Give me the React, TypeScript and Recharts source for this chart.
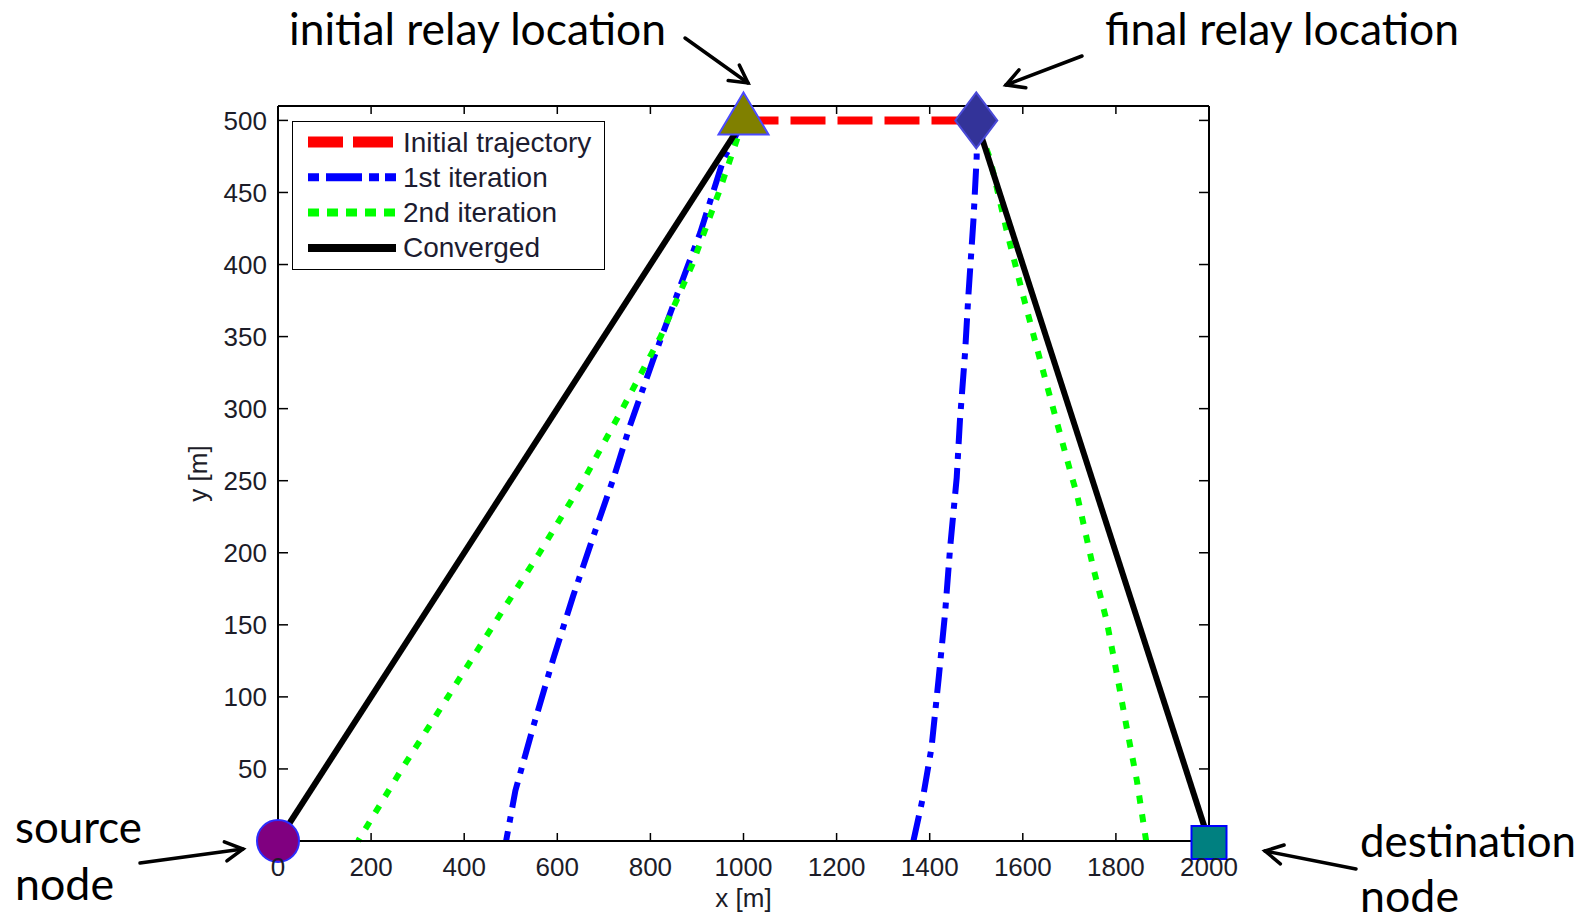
import React from "react";
import { ComposedChart, Line, Scatter, XAxis, YAxis, Legend } from "recharts";

const X_TICKS = [0, 200, 400, 600, 800, 1000, 1200, 1400, 1600, 1800, 2000];
const Y_TICKS = [50, 100, 150, 200, 250, 300, 350, 400, 450, 500];

// relay trajectories (x [m], y [m])
const initialTrajectory = [
  { x: 1000, y: 500 },
  { x: 1500, y: 500 },
];

const firstIterationLeft = [
  { x: 1000, y: 500 }, { x: 957, y: 473 }, { x: 907, y: 422 }, { x: 864, y: 385 },
  { x: 806, y: 334 }, { x: 756, y: 288 }, { x: 720, y: 251 }, { x: 677, y: 211 },
  { x: 634, y: 170 }, { x: 591, y: 126 }, { x: 548, y: 79 }, { x: 510, y: 35 },
  { x: 490, y: 0 },
];
const firstIterationRight = [
  { x: 1365, y: 0 }, { x: 1386, y: 31 }, { x: 1404, y: 65 },
  { x: 1419, y: 112 }, { x: 1433, y: 158 }, { x: 1444, y: 204 }, { x: 1458, y: 252 },
  { x: 1465, y: 292 }, { x: 1476, y: 339 }, { x: 1483, y: 378 }, { x: 1494, y: 431 },
  { x: 1501, y: 475 }, { x: 1500, y: 500 },
];

const secondIterationLeft = [
  { x: 1000, y: 500 }, { x: 947, y: 450 }, { x: 890, y: 400 }, { x: 822, y: 350 },
  { x: 740, y: 300 }, { x: 656, y: 250 }, { x: 562, y: 200 }, { x: 463, y: 150 },
  { x: 365, y: 100 }, { x: 266, y: 50 }, { x: 172, y: 0 },
];
const secondIterationRight = [
  { x: 1865, y: 0 },
  { x: 1845, y: 42 }, { x: 1823, y: 79 }, { x: 1802, y: 116 }, { x: 1780, y: 153 },
  { x: 1751, y: 190 }, { x: 1716, y: 241 }, { x: 1705, y: 253 }, { x: 1672, y: 292 },
  { x: 1637, y: 334 }, { x: 1601, y: 378 }, { x: 1565, y: 424 }, { x: 1530, y: 473 },
  { x: 1500, y: 500 },
];

const convergedLeft = [
  { x: 1000, y: 500 },
  { x: 0, y: 0 },
];
const convergedRight = [
  { x: 1500, y: 500 },
  { x: 2000, y: 0 },
];

const sourceNode = [{ x: 0, y: 0 }];
const destinationNode = [{ x: 2000, y: 0 }];
const initialRelay = [{ x: 1000, y: 500 }];
const finalRelay = [{ x: 1500, y: 500 }];

const LEGEND_ITEMS = [
  { name: "Initial trajectory", color: "#ff0000", dash: "35 10 40", width: 11 },
  { name: "1st iteration", color: "#0000ff", dash: "11 7 36 7 10 6 11", width: 8 },
  { name: "2nd iteration", color: "#00ff00", dash: "11 8", width: 8 },
  { name: "Converged", color: "#000000", dash: undefined, width: 8 },
];

const TICK_FONT = { fontSize: 26, fill: "#1c1c28", fontFamily: "'Liberation Sans', Arial, sans-serif" };
const NO_LABEL = { fontSize: 1, fill: "none" };
const AXIS_LINE = { stroke: "#000", strokeWidth: 2 };
const TICK_LINE = { stroke: "#000", strokeWidth: 1.5 };
const blank = () => "";

const SERIES = [
  { key: "init", data: initialTrajectory, color: "#ff0000", width: 8, dash: "35 12" },
  { key: "it1a", data: firstIterationLeft, color: "#0000ff", width: 6, dash: "26 9 6 9" },
  { key: "it1b", data: firstIterationRight, color: "#0000ff", width: 6, dash: "26 9 6 9" },
  { key: "it2a", data: secondIterationLeft, color: "#00ff00", width: 6, dash: "8 11" },
  { key: "it2b", data: secondIterationRight, color: "#00ff00", width: 6, dash: "8 11" },
  { key: "convA", data: convergedLeft, color: "#000000", width: 6, dash: undefined },
  { key: "convB", data: convergedRight, color: "#000000", width: 6, dash: undefined },
];

function LegendBox() {
  return (
    <div style={{ width: 313, height: 149, border: "1.5px solid #000", background: "#fff", boxSizing: "border-box" }}>
      <svg width={310} height={146} style={{ display: "block" }}>
        {LEGEND_ITEMS.map((it, i) => {
          const cy = 20 + i * 35.3;
          return (
            <g key={it.name}>
              <line x1={15} x2={103} y1={cy} y2={cy} stroke={it.color} strokeWidth={it.width} strokeDasharray={it.dash} />
              <text
                x={110}
                y={cy}
                dominantBaseline="central"
                fontSize={28}
                fill="#1c1c30"
                fontFamily="'Liberation Sans', Arial, sans-serif"
              >
                {it.name}
              </text>
            </g>
          );
        })}
      </svg>
    </div>
  );
}

function Arrow({ x1, y1, x2, y2 }: { x1: number; y1: number; x2: number; y2: number }) {
  const a = Math.atan2(y2 - y1, x2 - x1);
  const L = 20;
  const s = 0.5;
  const p1 = `${x2 - L * Math.cos(a - s)},${y2 - L * Math.sin(a - s)}`;
  const p2 = `${x2 - L * Math.cos(a + s)},${y2 - L * Math.sin(a + s)}`;
  return (
    <g stroke="#000" strokeWidth={3.5} fill="none" strokeLinecap="round">
      <line x1={x1} y1={y1} x2={x2} y2={y2} />
      <polyline points={`${p1} ${x2},${y2} ${p2}`} />
    </g>
  );
}

const NOTE_FONT = "Lato, 'Open Sans', sans-serif";

function Notes() {
  const t = (x: number, y: number, w: number, s: string) => (
    <text x={x} y={y} fontSize={44} fontFamily={NOTE_FONT} fill="#000" textLength={w} lengthAdjust="spacingAndGlyphs">
      {s}
    </text>
  );
  return (
    <svg width={1589} height={920} style={{ position: "absolute", left: 0, top: 0, pointerEvents: "none" }}>
      {t(289, 45, 377, "initial relay location")}
      {t(1105, 45, 354, "final relay location")}
      {t(15, 843, 127, "source")}
      {t(15, 900, 99, "node")}
      {t(1360, 857, 216, "destination")}
      {t(1360, 912, 99, "node")}
      <Arrow x1={685} y1={38} x2={748} y2={83} />
      <Arrow x1={1082} y1={56} x2={1006} y2={85} />
      <Arrow x1={140} y1={863} x2={243} y2={849} />
      <Arrow x1={1356} y1={869} x2={1265} y2={851} />
    </svg>
  );
}

export default function App() {
  return (
    <div style={{ position: "absolute", left: 0, top: 0, width: 1589, height: 920, background: "#fff" }}>
      <ComposedChart
        width={1589}
        height={920}
        margin={{ top: 96, right: 370, bottom: 19, left: 198 }}
        style={{ fontFamily: "'Liberation Sans', Arial, sans-serif" }}
      >
        <XAxis
          dataKey="x"
          type="number"
          domain={[0, 2000]}
          ticks={X_TICKS}
          interval={0}
          height={60}
          tickSize={-8}
          tickMargin={25}
          tick={TICK_FONT}
          axisLine={AXIS_LINE}
          tickLine={TICK_LINE}
          label={{
            content: (p: any) => (
              <text
                x={p.viewBox.x + p.viewBox.width / 2}
                y={p.viewBox.y + 66}
                textAnchor="middle"
                fontSize={26}
                fill="#1c1c28"
              >
                x [m]
              </text>
            ),
          }}
        />
        <XAxis
          xAxisId="top"
          orientation="top"
          dataKey="x"
          type="number"
          domain={[0, 2000]}
          allowDataOverflow
          ticks={X_TICKS}
          interval={0}
          height={10}
          tickSize={-8}
          tick={NO_LABEL}
          tickFormatter={blank}
          axisLine={AXIS_LINE}
          tickLine={TICK_LINE}
        />
        <YAxis
          dataKey="y"
          type="number"
          domain={[0, 510]}
          ticks={Y_TICKS}
          interval={0}
          width={80}
          tickSize={-10}
          tickMargin={21}
          tick={TICK_FONT}
          axisLine={AXIS_LINE}
          tickLine={TICK_LINE}
          label={{
            content: (p: any) => {
              const cx = p.viewBox.x;
              const cy = p.viewBox.y + p.viewBox.height / 2;
              return (
                <text
                  x={cx}
                  y={cy}
                  textAnchor="middle"
                  dominantBaseline="central"
                  fontSize={26}
                  fill="#1c1c28"
                  transform={`rotate(-90 ${cx} ${cy})`}
                >
                  y [m]
                </text>
              );
            },
          }}
        />
        <YAxis
          yAxisId="right"
          orientation="right"
          dataKey="y"
          type="number"
          domain={[0, 510]}
          allowDataOverflow
          ticks={Y_TICKS}
          interval={0}
          width={10}
          tickSize={-10}
          tick={NO_LABEL}
          tickFormatter={blank}
          axisLine={AXIS_LINE}
          tickLine={TICK_LINE}
        />
        <Legend
          layout="horizontal"
          verticalAlign="middle"
          align="center"
          content={() => <LegendBox />}
          wrapperStyle={{ left: 292, top: 121, width: 313, height: 149 }}
        />
        {SERIES.map((s) => (
          <Line
            key={s.key}
            data={s.data}
            dataKey="y"
            name={s.key}
            type="linear"
            stroke={s.color}
            strokeWidth={s.width}
            strokeDasharray={s.dash}
            dot={false}
            activeDot={false}
            isAnimationActive={false}
          />
        ))}
        <Scatter
          data={sourceNode}
          dataKey="y"
          isAnimationActive={false}
          shape={(p: any) => <circle cx={p.cx} cy={p.cy} r={21} fill="#800080" stroke="#2b2bff" strokeWidth={2} />}
        />
        <Scatter
          data={destinationNode}
          dataKey="y"
          isAnimationActive={false}
          shape={(p: any) => (
            <rect x={p.cx - 17.5} y={p.cy - 15} width={35} height={33} fill="#008080" stroke="#0000ff" strokeWidth={2} />
          )}
        />
        <Scatter
          data={initialRelay}
          dataKey="y"
          isAnimationActive={false}
          shape={(p: any) => (
            <polygon
              points={`${p.cx},${p.cy - 28} ${p.cx + 25},${p.cy + 14} ${p.cx - 25},${p.cy + 14}`}
              fill="#808000"
              stroke="#4a4aff"
              strokeWidth={2}
            />
          )}
        />
        <Scatter
          data={finalRelay}
          dataKey="y"
          isAnimationActive={false}
          shape={(p: any) => (
            <polygon
              points={`${p.cx},${p.cy - 28} ${p.cx + 21},${p.cy} ${p.cx},${p.cy + 28} ${p.cx - 21},${p.cy}`}
              fill="#333399"
              stroke="#4a4ad8"
              strokeWidth={2}
            />
          )}
        />
      </ComposedChart>
      <Notes />
    </div>
  );
}
